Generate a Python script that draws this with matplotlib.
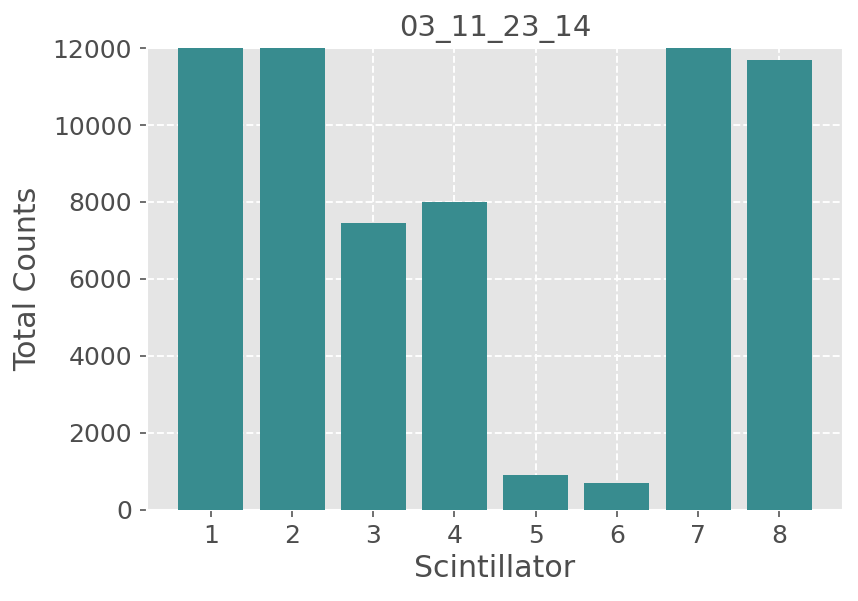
import matplotlib
matplotlib.use("Agg")
import matplotlib.pyplot as plt

plt.style.use("ggplot")

scintillators = [1, 2, 3, 4, 5, 6, 7, 8]
counts = [14500, 14200, 7450, 8000, 900, 680, 14800, 11690]
title = "03_11_23_14"

fig, ax = plt.subplots(figsize=(5.72, 4.0067), dpi=150)
fig.subplots_adjust(left=0.171, right=0.983, top=0.920, bottom=0.152)
ax.bar(scintillators, counts, color="#388C8F", zorder=3)
ax.set_ylim(0, 12000)
ax.set_xticks(scintillators)
ax.grid(True, color="white", linestyle="--", linewidth=0.9)
ax.set_axisbelow(True)
ax.set_title(title, color="#4d4d4d", fontsize=14)
ax.set_xlabel("Scintillator", color="#4d4d4d", fontsize=14.4, labelpad=3)
ax.set_ylabel("Total Counts", color="#4d4d4d", fontsize=14.4, labelpad=5)
ax.tick_params(labelsize=12, colors="#555555")
for lbl in ax.get_xticklabels() + ax.get_yticklabels():
    lbl.set_color("#4d4d4d")

fig.savefig("out.png", dpi=150)
